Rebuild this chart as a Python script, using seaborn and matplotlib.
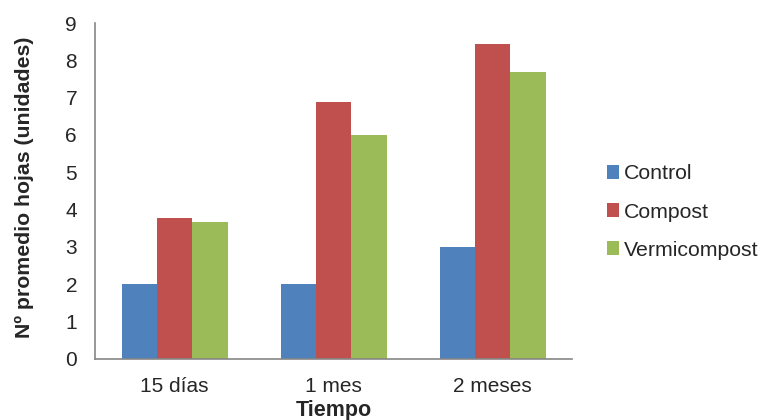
import matplotlib
matplotlib.use('Agg')
import matplotlib.pyplot as plt
import pandas as pd
import seaborn as sns

categories = ['15 días', '1 mes', '2 meses']
control = [2.0, 2.0, 3.0]
compost = [3.78, 6.88, 8.45]
vermicompost = [3.67, 6.0, 7.68]
series_names = ['Control', 'Compost', 'Vermicompost']
colors = ['#4F81BD', '#C0504D', '#9BBB59']

rows = []
for name, vals in zip(series_names, [control, compost, vermicompost]):
    for cat, v in zip(categories, vals):
        rows.append({'Tiempo': cat, 'Tratamiento': name, 'valor': v})
df = pd.DataFrame(rows)

sns.set_style('white')
plt.rcParams['font.family'] = ['Liberation Sans', 'DejaVu Sans']

fig = plt.figure(figsize=(7.61, 4.2), dpi=100)
ax = fig.add_axes([0.125, 0.146, 0.627, 0.799])

sns.barplot(data=df, x='Tiempo', y='valor', hue='Tratamiento',
            order=categories, hue_order=series_names, palette=colors,
            width=0.667, linewidth=0, saturation=1, ax=ax, legend=True)

axis_col = '#868686'
ax.set_xlim(-0.5, 2.5)
ax.set_ylim(0, 9)
ax.set_yticks(range(0, 10))
ax.set_xticks([-0.5, 0.5, 1.5, 2.5], minor=True)
ax.tick_params(axis='x', which='major', length=0, labelsize=15, pad=13)
ax.tick_params(axis='x', which='minor', length=5, width=1, color=axis_col, direction='out')
ax.tick_params(axis='y', length=5, width=1, color=axis_col, direction='out', labelsize=15, pad=8)
for s in ['top', 'right']:
    ax.spines[s].set_visible(False)
for s in ['left', 'bottom']:
    ax.spines[s].set_color(axis_col)
    ax.spines[s].set_linewidth(1.2)

ax.set_xlabel('Tiempo', fontsize=15.5, fontweight='bold', labelpad=3)
ax.set_ylabel('Nº promedio hojas (unidades)', fontsize=15.3, fontweight='bold')
ax.yaxis.set_label_coords(-0.128, 0.512)

ax.legend_.remove()
handles, labels = ax.get_legend_handles_labels()
fig.legend(handles, labels, loc='center left', bbox_to_anchor=(0.772, 0.495),
           frameon=False, fontsize=15.3, handlelength=0.6, handleheight=0.6,
           handletextpad=0.2, labelspacing=0.9)

fig.savefig('out.png', dpi=100)
